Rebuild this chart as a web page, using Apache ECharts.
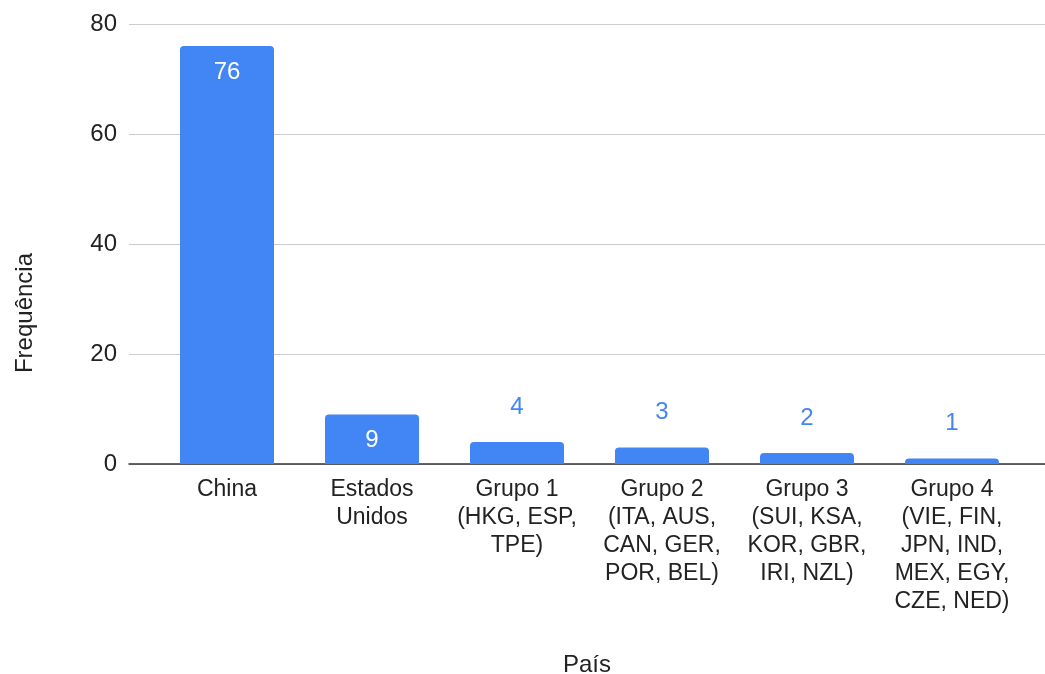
<!DOCTYPE html>
<html>
<head>
<meta charset="utf-8">
<script src="https://cdn.jsdelivr.net/npm/echarts@6/dist/echarts.min.js"></script>
<style>
  html, body { margin: 0; padding: 0; background: #ffffff; }
  #chart { width: 1045px; height: 674px; }
</style>
</head>
<body>
<div id="chart"></div>
<script>
// 数据
const categories = [
    'China',
    'Estados\nUnidos',
    'Grupo 1\n(HKG, ESP,\nTPE)',
    'Grupo 2\n(ITA, AUS,\nCAN, GER,\nPOR, BEL)',
    'Grupo 3\n(SUI, KSA,\nKOR, GBR,\nIRI, NZL)',
    'Grupo 4\n(VIE, FIN,\nJPN, IND,\nMEX, EGY,\nCZE, NED)'
];
const frequencias = [76, 9, 4, 3, 2, 1];
const yTicks = [0, 20, 40, 60, 80];

const fontFamily = '"Liberation Sans", Arial, sans-serif';
const barColor = '#4285f4';
const textColor = '#222222';

const chart = echarts.init(document.getElementById('chart'));

// 大柱子标签放在内部，小柱子放在上方
const barData = frequencias.map(v => {
    const big = v >= 9;
    return {
        value: v,
        label: big
            ? { position: 'insideTop', distance: 14, color: '#ffffff' }
            : { position: 'top', distance: 23, color: barColor }
    };
});

const option = {
    backgroundColor: '#ffffff',
    textStyle: { fontFamily: fontFamily },
    grid: [
        { left: 129, right: 0, top: 24, bottom: 210, outerBoundsMode: 'none', containLabel: false },
        { left: 154.5, right: 20.5, top: 24, bottom: 210, outerBoundsMode: 'none', containLabel: false }
    ],
    graphic: [{
        type: 'text',
        x: 25,
        y: 313,
        rotation: Math.PI / 2,
        style: {
            text: 'Frequência',
            fontSize: 24,
            fontFamily: fontFamily,
            fill: textColor,
            align: 'center',
            verticalAlign: 'middle'
        }
    }],
    xAxis: [
        {
            gridIndex: 0,
            type: 'value',
            min: 0, max: 1,
            axisLine: { show: true, onZero: false, lineStyle: { color: '#333333', width: 1.5 } },
            axisTick: { show: false },
            axisLabel: { show: false },
            splitLine: { show: false },
            name: 'País',
            nameLocation: 'middle',
            nameGap: 189,
            nameTextStyle: { fontSize: 24, color: textColor, fontFamily: fontFamily }
        },
        {
            gridIndex: 1,
            type: 'category',
            data: categories,
            axisLine: { show: false },
            axisTick: { show: false },
            axisLabel: {
                fontSize: 23,
                color: textColor,
                lineHeight: 28,
                margin: 12,
                interval: 0,
                fontFamily: fontFamily
            }
        }
    ],
    yAxis: [
        {
            gridIndex: 0,
            type: 'value',
            min: 0, max: 80, interval: 20,
            axisLine: { show: false },
            axisTick: { show: false },
            axisLabel: {
                fontSize: 24,
                color: textColor,
                margin: 12,
                fontFamily: fontFamily,
                formatter: v => (yTicks.indexOf(v) >= 0 ? String(v) : '')
            },
            splitLine: { lineStyle: { color: '#cccccc', width: 1 } }
        },
        {
            gridIndex: 1,
            type: 'value',
            min: 0, max: 80, interval: 20,
            show: false
        }
    ],
    series: [{
        type: 'bar',
        xAxisIndex: 1,
        yAxisIndex: 1,
        data: barData,
        barWidth: 94,
        itemStyle: { color: barColor, borderRadius: [4, 4, 0, 0] },
        label: {
            show: true,
            fontSize: 24,
            fontFamily: fontFamily
        },
        z: 3
    }]
};

chart.setOption(option);

window.addEventListener('resize', function() {
    chart.resize();
});
</script>
</body>
</html>
